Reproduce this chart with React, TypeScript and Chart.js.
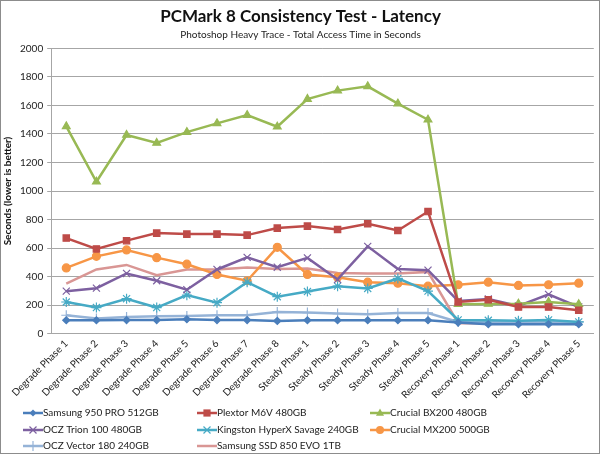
import React, { useEffect, useRef } from "react";
import { Chart, registerables } from "chart.js";

Chart.register(...registerables);

const categories = [
  "Degrade Phase 1", "Degrade Phase 2", "Degrade Phase 3", "Degrade Phase 4",
  "Degrade Phase 5", "Degrade Phase 6", "Degrade Phase 7", "Degrade Phase 8",
  "Steady Phase 1", "Steady Phase 2", "Steady Phase 3", "Steady Phase 4", "Steady Phase 5",
  "Recovery Phase 1", "Recovery Phase 2", "Recovery Phase 3", "Recovery Phase 4", "Recovery Phase 5",
];

const samsung950 = [94, 94, 95, 95, 101, 95, 95, 89, 94, 94, 94, 94, 94, 78, 66, 66, 66, 66];
const plextorM6V = [670, 594, 652, 705, 698, 698, 691, 740, 754, 730, 770, 723, 856, 222, 238, 187, 187, 164];
const crucialBX200 = [1453, 1065, 1393, 1337, 1413, 1474, 1532, 1451, 1645, 1704, 1734, 1613, 1500, 206, 208, 210, 222, 206];
const oczTrion = [298, 319, 422, 371, 308, 450, 535, 466, 531, 380, 612, 454, 445, 229, 243, 194, 275, 187];
const kingstonSavage = [222, 183, 245, 183, 270, 217, 361, 259, 295, 333, 317, 387, 298, 96, 94, 90, 96, 82];
const crucialMX200 = [461, 542, 587, 533, 487, 415, 371, 605, 415, 396, 361, 354, 333, 343, 361, 338, 343, 354];
const oczVector = [129, 106, 117, 122, 124, 129, 129, 152, 148, 141, 136, 145, 145, 82, 82, 82, 82, 82];
const samsung850 = [350, 450, 482, 410, 450, 450, 463, 454, 456, 426, 422, 422, 433, 73, 73, 73, 73, 72];

const yTicks = { min: 0, max: 2000, step: 200 };

const FONT = "Lato, 'Open Sans', sans-serif";

const series = [
  { label: "Samsung 950 PRO 512GB", data: samsung950, color: "#4a7ebb", style: "rectRot", r: 3.5 },
  { label: "Plextor M6V 480GB", data: plextorM6V, color: "#be4b48", style: "rect", r: 4.5 },
  { label: "Crucial BX200 480GB", data: crucialBX200, color: "#98b954", style: "triangle", r: 4.5 },
  { label: "OCZ Trion 100 480GB", data: oczTrion, color: "#7d60a0", style: "crossRot", r: 5 },
  { label: "Kingston HyperX Savage 240GB", data: kingstonSavage, color: "#46aac5", style: "star", r: 5 },
  { label: "Crucial MX200 500GB", data: crucialMX200, color: "#f79646", style: "circle", r: 4 },
  { label: "OCZ Vector 180 240GB", data: oczVector, color: "#95b3d7", style: "cross", r: 5 },
  { label: "Samsung SSD 850 EVO 1TB", data: samsung850, color: "#d99694", style: false, r: 0 },
];

function drawPoint(ctx: any, style: string, r: number, x: number, y: number, color: string) {
  ctx.save();
  ctx.fillStyle = color;
  ctx.strokeStyle = color;
  ctx.lineWidth = 1.2;
  ctx.beginPath();
  if (style === "rectRot") {
    ctx.moveTo(x, y - r); ctx.lineTo(x + r, y); ctx.lineTo(x, y + r); ctx.lineTo(x - r, y); ctx.closePath(); ctx.fill();
  } else if (style === "rect") {
    ctx.rect(x - r * 0.8, y - r * 0.8, r * 1.6, r * 1.6); ctx.fill();
  } else if (style === "triangle") {
    ctx.moveTo(x, y - r); ctx.lineTo(x + r * 0.9, y + r * 0.6); ctx.lineTo(x - r * 0.9, y + r * 0.6); ctx.closePath(); ctx.fill();
  } else if (style === "circle") {
    ctx.arc(x, y, r, 0, Math.PI * 2); ctx.fill();
  } else if (style === "crossRot") {
    const d = r * 0.7;
    ctx.moveTo(x - d, y - d); ctx.lineTo(x + d, y + d); ctx.moveTo(x + d, y - d); ctx.lineTo(x - d, y + d); ctx.stroke();
  } else if (style === "star") {
    const d = r * 0.7;
    ctx.moveTo(x - d, y - d); ctx.lineTo(x + d, y + d); ctx.moveTo(x + d, y - d); ctx.lineTo(x - d, y + d);
    ctx.moveTo(x - r, y); ctx.lineTo(x + r, y); ctx.stroke();
  } else if (style === "cross") {
    ctx.moveTo(x, y - r); ctx.lineTo(x, y + r); ctx.stroke();
  }
  ctx.restore();
}

const legendPlugin = {
  id: "customLegend",
  afterDraw(chart: any) {
    const ctx = chart.ctx;
    const colX = [23, 197, 370];
    const rowY = [413, 430, 446];
    ctx.save();
    chart.data.datasets.forEach((ds: any, i: number) => {
      const x = colX[i % 3];
      const y = rowY[Math.floor(i / 3)];
      ctx.strokeStyle = ds.borderColor;
      ctx.lineWidth = 2.5;
      ctx.beginPath();
      ctx.moveTo(x, y);
      ctx.lineTo(x + 20, y);
      ctx.stroke();
      if (ds.pointStyle) {
        drawPoint(ctx, ds.pointStyle, ds.pointRadius, x + 10, y, ds.borderColor);
      }
      ctx.fillStyle = "#222";
      ctx.font = `10px ${FONT}`;
      ctx.textBaseline = "middle";
      ctx.textAlign = "left";
      ctx.fillText(ds.label, x + 20, y);
    });
    ctx.strokeStyle = "#8c8c8c";
    ctx.lineWidth = 1;
    ctx.strokeRect(0.5, 0.5, chart.width - 1, chart.height - 1);
    ctx.restore();
  },
};

export default function App() {
  const ref = useRef<HTMLCanvasElement | null>(null);
  useEffect(() => {
    document.body.style.margin = "0";
    const canvas = ref.current!;
    const chart = new Chart(canvas, {
      type: "line",
      data: {
        labels: categories,
        datasets: series.map((s) => ({
          label: s.label,
          data: s.data,
          borderColor: s.color,
          backgroundColor: s.color,
          borderWidth: 2.5,
          pointStyle: s.style as any,
          pointRadius: s.r,
          pointBorderWidth: 1.2,
          tension: 0,
          fill: false,
        })),
      },
      plugins: [legendPlugin],
      options: {
        responsive: false,
        animation: false,
        devicePixelRatio: 1,
        layout: { padding: { left: 2, right: 1, top: 2, bottom: 49 } },
        plugins: {
          legend: { display: false },
          tooltip: { enabled: false },
          title: {
            display: true,
            text: "PCMark 8 Consistency Test - Latency",
            color: "#111",
            font: { family: FONT, size: 17, weight: "bold" },
            padding: { top: 4, bottom: 2 },
          },
          subtitle: {
            display: true,
            text: "Photoshop Heavy Trace - Total Access Time in Seconds",
            color: "#222",
            font: { family: FONT, size: 10 },
            padding: { top: 0, bottom: 8 },
          },
        },
        scales: {
          x: {
            offset: true,
            grid: { display: false, drawTicks: false },
            border: { color: "#a6a6a6" },
            ticks: {
              color: "#222",
              font: { family: FONT, size: 10 },
              minRotation: 45,
              maxRotation: 45,
              autoSkip: false,
              padding: 4,
            },
          },
          y: {
            min: yTicks.min,
            max: yTicks.max,
            grid: { color: "#a6a6a6", drawTicks: true, tickLength: 4 },
            border: { color: "#a6a6a6" },
            ticks: {
              stepSize: yTicks.step,
              color: "#222",
              font: { family: FONT, size: 10 },
              padding: 4,
              callback: (v: any) => String(v),
            },
            title: {
              display: true,
              text: "Seconds (lower is better)",
              color: "#111",
              font: { family: FONT, size: 10, weight: "bold" },
              padding: { top: 0, bottom: 2 },
            },
          },
        },
      },
    });
    return () => chart.destroy();
  }, []);
  return (
    <div style={{ position: "fixed", left: 0, top: 0, width: 600, height: 454, background: "#fff" }}>
      <canvas ref={ref} width={600} height={454} />
    </div>
  );
}
